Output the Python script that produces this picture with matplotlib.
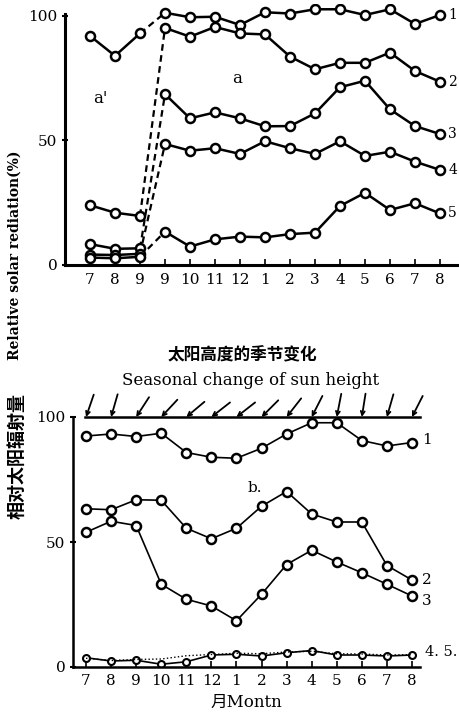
import numpy as np
import matplotlib
matplotlib.use("Agg")
import matplotlib.pyplot as plt

plt.rcParams['font.family'] = ['DejaVu Serif', 'Noto Sans CJK SC']

# ---- panel a' / a : months and series ----
top_months = ['7', '8', '9', '9', '10', '11', '12', '1', '2', '3', '4', '5', '6', '7', '8']
# a' (Jul-Sep, before)
a1_prev = [92, 84, 93]
a2_prev = [24, 21, 19.7]
a3_prev = [8.4, 6.5, 6.7]
a4_prev = [4.2, 4.0, 4.5]
a5_prev = [3.0, 2.7, 3.3]
# a (Sep - Aug)
a1 = [101.3, 99.5, 99.7, 96.4, 101.5, 101.0, 102.7, 102.7, 100.4, 102.7, 96.8, 100.4]
a2 = [95.2, 91.7, 95.6, 93.0, 92.6, 83.7, 78.6, 81.2, 81.2, 85.3, 77.9, 73.6]
a3 = [68.6, 58.9, 61.3, 58.9, 55.7, 55.8, 60.9, 71.4, 74.0, 62.5, 55.8, 52.6]
a4 = [48.6, 45.9, 46.9, 44.6, 49.7, 46.9, 44.6, 49.7, 43.8, 45.5, 41.5, 38.2]
a5 = [13.4, 7.4, 10.3, 11.4, 11.1, 12.4, 13.0, 23.7, 29.0, 22.1, 24.8, 20.7]
a_labels = ['1', '2', '3', '4', '5']

# ---- panel b ----
b_months = ['7', '8', '9', '10', '11', '12', '1', '2', '3', '4', '5', '6', '7', '8']
b1 = [92.4, 93.2, 92.2, 93.5, 85.8, 83.9, 83.5, 87.5, 93.2, 97.7, 97.7, 90.6, 88.4, 89.8]
b2 = [63.3, 62.9, 66.9, 66.7, 55.5, 51.3, 55.5, 64.3, 70.2, 61.2, 58.0, 58.0, 40.6, 34.8]
b3 = [53.9, 58.3, 56.6, 33.1, 27.1, 24.4, 18.5, 29.1, 41.0, 46.7, 42.0, 37.7, 33.1, 28.4]
b4 = [3.7, 2.4, 2.7, 1.1, 2.1, 4.8, 5.1, 4.4, 5.7, 6.6, 4.8, 4.8, 4.4, 4.8]
b5 = [3.5, 2.6, 3.0, 3.2, 4.5, 5.0, 5.5, 5.3, 6.0, 6.3, 5.3, 5.2, 4.8, 4.9]
# sun elevation arrows (degrees above horizontal)
sun_angle = [71, 74, 57, 47, 40, 38, 38, 45, 52, 63, 79, 81, 74, 63]

W, H = 459, 716
fig = plt.figure(figsize=(W / 100, H / 100), dpi=100)

mk = dict(marker='o', mfc='white', mec='black', color='black')

# ================= top panel =================
ax = fig.add_axes([65 / W, (H - 265) / H, (W - 65) / W, 105 * 2.49 / H])
x_prev = np.arange(3)
x_a = np.arange(3, 15)
prev = [a1_prev, a2_prev, a3_prev, a4_prev, a5_prev]
cur = [a1, a2, a3, a4, a5]
for p, c, lab in zip(prev, cur, a_labels):
    ax.plot(x_prev, p, lw=1.8, ms=6.5, mew=1.8, **mk)
    ax.plot(x_a, c, lw=1.8, ms=6.5, mew=1.8, **mk)
    ax.plot([x_prev[-1], x_a[0]], [p[-1], c[0]], ls=(0, (3, 2)), lw=1.6,
            color='black', zorder=1)
    ax.text(x_a[-1] + 0.33, c[-1], lab, fontsize=10, va='center', ha='left')
ax.text(0.4, 67, "a'", fontsize=12, ha='center', va='center')
ax.text(5.9, 75, "a", fontsize=12, ha='center', va='center')

ax.set_xlim(-1, 14.76)
ax.set_ylim(0, 105)
ax.set_xticks(np.arange(len(top_months)))
ax.set_xticklabels(top_months)
ax.set_yticks([0, 50, 100])
for s in ['top', 'right']:
    ax.spines[s].set_visible(False)
ax.spines['left'].set_bounds(0, 101)
ax.spines['left'].set_linewidth(2.2)
ax.spines['bottom'].set_linewidth(2.2)
ax.tick_params(axis='x', direction='in', length=4, width=1.2, labelsize=11, pad=6)
ax.tick_params(axis='y', direction='inout', length=5, width=1.5, labelsize=11, pad=3)

# ================= bottom panel =================
bx = fig.add_axes([73 / W, (H - 667) / H, (420 - 73) / W, 250 / H])
xb = np.arange(len(b_months))
for vals in [b1, b2, b3]:
    bx.plot(xb, vals, lw=1.2, ms=6.5, mew=1.8, **mk)
bx.plot(xb, b4, lw=1.2, ms=5, mew=1.5, **mk)
bx.plot(xb, b5, lw=1.0, ls=':', color='black')

for lab, v in zip(['1', '2', '3'], [b1[-1] + 1, b2[-1], b3[-1] - 2]):
    bx.text(xb[-1] + 0.4, v, lab, fontsize=11, va='center', ha='left')
bx.text(xb[-1] + 0.5, 6, '4. 5.', fontsize=10.5, va='center', ha='left')
bx.text(6.75, 71.5, 'b.', fontsize=11, ha='center', va='center')

# sun height arrows on the top line
L = 17
for i, ang in enumerate(sun_angle):
    r = np.deg2rad(ang)
    bx.annotate('', xy=(i, 100), xytext=(L * np.cos(r), L * np.sin(r)),
                textcoords='offset points', annotation_clip=False,
                arrowprops=dict(arrowstyle='->', lw=1.3, color='black',
                                shrinkA=0, shrinkB=0, mutation_scale=7))

bx.set_xlim(-0.52, 13.32)
bx.set_ylim(0, 100)
bx.set_xticks(xb)
bx.set_xticklabels(b_months)
bx.set_yticks([0, 50, 100])
bx.spines['right'].set_visible(False)
bx.spines['top'].set_bounds(-0.05, 13.32)
for s in ['top', 'left', 'bottom']:
    bx.spines[s].set_linewidth(1.8)
bx.tick_params(axis='x', direction='in', length=4, width=1.2, labelsize=11, pad=5)
bx.tick_params(axis='y', direction='inout', length=5, width=1.5, labelsize=11, pad=3)
bx.set_xlabel('月Montn', fontsize=12, labelpad=4)

# titles and y label
fig.text(242 / W, 1 - 355 / H, '太阳高度的季节变化', fontsize=12, fontweight='bold',
         family=['Noto Sans CJK SC', 'DejaVu Sans'], ha='center', va='center')
fig.text(251 / W, 1 - 380 / H, 'Seasonal change of sun height', fontsize=12,
         ha='center', va='center')
fig.text(15 / W, 1 - 255 / H, 'Relative solar rediation(%)', fontsize=10,
         fontweight='bold', rotation=90, ha='center', va='center')
fig.text(17 / W, 1 - 456 / H, '相对太阳辐射量', fontsize=13, fontweight='bold',
         family=['Noto Sans CJK SC', 'DejaVu Sans'], rotation=90,
         ha='center', va='center')

fig.savefig('out.png', dpi=100)
